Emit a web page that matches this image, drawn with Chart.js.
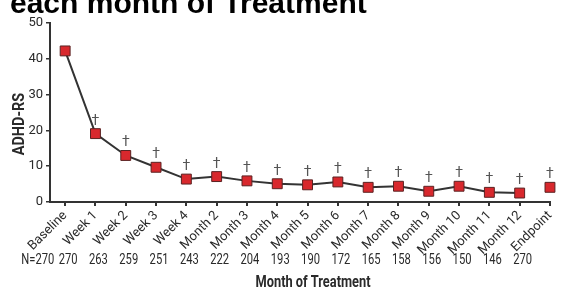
<!DOCTYPE html>
<html>
<head>
<meta charset="utf-8">
<script src="https://cdn.jsdelivr.net/npm/chart.js@4"></script>
<style>
  html, body { margin: 0; padding: 0; background: #fff; }
  #wrap { position: relative; width: 563px; height: 291px; }
</style>
</head>
<body>
<div id="wrap"><canvas id="adhdChart" width="563" height="291"></canvas></div>
<script>
const categories = ["Baseline", "Week 1", "Week 2", "Week 3", "Week 4", "Month 2", "Month 3", "Month 4",
  "Month 5", "Month 6", "Month 7", "Month 8", "Month 9", "Month 10", "Month 11", "Month 12", "Endpoint"];
// Baseline .. Month 12 (connected line)
const adhdScores = [42.2, 19.1, 13.0, 9.7, 6.4, 7.1, 5.9, 5.1, 4.8, 5.6, 4.1, 4.4, 3.0, 4.4, 2.7, 2.5];
const endpointScore = [4.1];
const significant = [false, true, true, true, true, true, true, true, true, true, true, true, true, true, true, true, true];
const nLabels = ["N=270", "270", "263", "259", "251", "243", "222", "204", "193", "190", "172", "165", "158", "156", "150", "146", "270"];
const yTicks = [0, 10, 20, 30, 40, 50];

const face = "Roboto, 'Liberation Sans', sans-serif";
const ink = "#2a2a2a";

// draws text squeezed horizontally, like the condensed face of the original
function narrowText(ctx, text, x, y, squeeze) {
    ctx.save();
    ctx.translate(x, y);
    ctx.scale(squeeze, 1);
    ctx.fillText(text, 0, 0);
    ctx.restore();
}

const textPlugin = {
    id: "extraText",
    afterDatasetsDraw(chart) {
        const ctx = chart.ctx;
        const xs = chart.scales.x;
        ctx.save();
        // daggers above points
        ctx.fillStyle = "#555";
        ctx.font = "14px " + face;
        ctx.textAlign = "center";
        ctx.textBaseline = "alphabetic";
        const pts = chart.getDatasetMeta(0).data.concat(chart.getDatasetMeta(1).data);
        pts.forEach((p, i) => {
            if (significant[i]) ctx.fillText("\u2020", p.x, p.y - 9);
        });
        // N row
        ctx.fillStyle = ink;
        ctx.font = "14px " + face;
        ctx.textBaseline = "middle";
        nLabels.forEach((t, k) => {
            narrowText(ctx, t, xs.getPixelForValue(k - 1) + 3, 260, 0.8);
        });
        // axis titles
        ctx.font = "bold 16px " + face;
        narrowText(ctx, "Month of Treatment", 313, 283, 0.8);
        ctx.save();
        ctx.translate(20, 124);
        ctx.rotate(-Math.PI / 2);
        narrowText(ctx, "ADHD-RS", 0, 0, 0.9);
        ctx.restore();
        // heading, cut at the top of the picture
        ctx.fillStyle = "#000";
        ctx.font = "bold 30px 'Liberation Sans', Arial, sans-serif";
        ctx.textAlign = "left";
        ctx.textBaseline = "alphabetic";
        ctx.fillText("each month of Treatment", 10, 13);
        ctx.restore();
    }
};

new Chart(document.getElementById("adhdChart"), {
    type: "line",
    data: {
        datasets: [
            {
                data: adhdScores.map((v, i) => ({ x: i, y: v })),
                borderColor: "#333",
                borderWidth: 2,
                pointStyle: "rect",
                pointRadius: 7,
                pointBackgroundColor: "#d8282d",
                pointBorderColor: "#5a2222",
                pointBorderWidth: 1,
                clip: false,
            },
            {
                data: endpointScore.map(v => ({ x: categories.length - 1, y: v })),
                showLine: false,
                pointStyle: "rect",
                pointRadius: 7,
                pointBackgroundColor: "#d8282d",
                pointBorderColor: "#5a2222",
                pointBorderWidth: 1,
                clip: false,
            },
        ],
    },
    options: {
        responsive: false,
        animation: false,
        layout: { padding: { top: 23, right: 13, left: 0, bottom: 0 } },
        plugins: { legend: { display: false }, tooltip: { enabled: false } },
        scales: {
            x: {
                type: "linear",
                min: -0.5,
                max: categories.length - 1,
                afterBuildTicks: (scale) => { scale.ticks = categories.map((c, i) => ({ value: i })); },
                afterFit: (scale) => { scale.height = 89; },
                ticks: {
                    autoSkip: false,
                    minRotation: 45,
                    maxRotation: 45,
                    padding: 2,
                    color: ink,
                    font: { family: face, size: 13 },
                    callback: (v) => categories[v],
                },
                grid: { drawOnChartArea: false, tickLength: 4, color: "#333", lineWidth: 2 },
                border: { color: "#333", width: 2 },
            },
            y: {
                min: 0,
                max: 50,
                afterBuildTicks: (scale) => { scale.ticks = yTicks.map(v => ({ value: v })); },
                afterFit: (scale) => { scale.width = 50; },
                ticks: { padding: 3, color: ink, font: { family: face, size: 13 } },
                grid: { drawOnChartArea: false, tickLength: 4, color: "#333", lineWidth: 1.5 },
                border: { color: "#333", width: 2 },
            },
        },
    },
    plugins: [textPlugin],
});
</script>
</body>
</html>
